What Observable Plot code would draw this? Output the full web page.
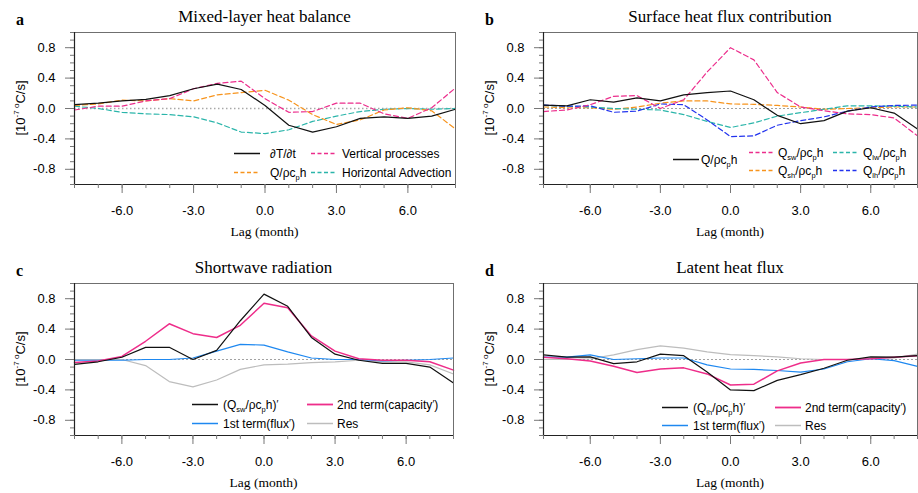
<!DOCTYPE html>
<html>
<head>
<meta charset="utf-8">
<script src="https://cdn.jsdelivr.net/npm/d3@7"></script>
<script src="https://cdn.jsdelivr.net/npm/@observablehq/plot@0.6"></script>
<style>
  html, body { margin: 0; padding: 0; background: #fff; }
  #wrap { position: relative; width: 918px; height: 493px; background: #fff; overflow: hidden; }
  .panel { position: absolute; }
  .panel svg { overflow: visible; }
</style>
</head>
<body>
<div id="wrap"></div>
<script>
// ---------------- data ----------------
const lags = [-8, -7, -6, -5, -4, -3, -2, -1, 0, 1, 2, 3, 4, 5, 6, 7, 8];
const xMajorTicks = [-6, -3, 0, 3, 6];
const yMajorTicks = [-0.8, -0.4, 0, 0.4, 0.8];

// (a) Mixed-layer heat balance
const aTend  = [0.05, 0.07, 0.10, 0.12, 0.17, 0.26, 0.32, 0.25, 0.04, -0.22, -0.31, -0.24, -0.13, -0.11, -0.13, -0.10, -0.01];
const aQnet  = [0.04, 0.06, 0.11, 0.10, 0.13, 0.10, 0.18, 0.21, 0.24, 0.11, -0.08, -0.21, -0.15, -0.02, 0.01, -0.03, -0.27];
const aVert  = [-0.02, 0.03, 0.03, 0.10, 0.13, 0.26, 0.33, 0.36, 0.13, -0.05, -0.04, 0.07, 0.07, -0.07, -0.13, 0.01, 0.27];
const aHadv  = [0.03, 0.0, -0.05, -0.07, -0.08, -0.11, -0.19, -0.31, -0.33, -0.28, -0.17, -0.10, -0.04, -0.01, 0.0, -0.01, 0.0];

// (b) Surface heat flux contribution
const bQnet = [0.045, 0.035, 0.115, 0.085, 0.14, 0.10, 0.18, 0.21, 0.23, 0.115, -0.09, -0.20, -0.16, -0.035, 0.01, -0.06, -0.27];
const bQsw  = [-0.04, -0.02, 0.05, 0.16, 0.17, 0.0, 0.115, 0.48, 0.80, 0.64, 0.21, 0.02, -0.03, -0.07, -0.08, -0.125, -0.36];
const bQsh  = [0.02, 0.01, 0.01, -0.01, 0.02, 0.07, 0.10, 0.10, 0.06, 0.055, 0.04, 0.02, -0.01, 0.0, 0.01, 0.02, 0.02];
const bQlw  = [0.04, 0.03, 0.02, 0.0, -0.01, -0.02, -0.08, -0.17, -0.25, -0.19, -0.10, -0.055, -0.01, 0.035, 0.035, 0.03, 0.02];
const bQlh  = [0.045, 0.03, 0.035, -0.05, -0.035, 0.06, 0.05, -0.15, -0.37, -0.36, -0.22, -0.16, -0.11, -0.035, 0.02, 0.04, 0.045];

// (c) Shortwave radiation
const cTotal = [-0.065, -0.03, 0.03, 0.16, 0.16, 0.0, 0.12, 0.51, 0.86, 0.70, 0.29, 0.07, -0.01, -0.05, -0.05, -0.10, -0.31];
const cCap   = [-0.04, -0.02, 0.04, 0.24, 0.47, 0.34, 0.29, 0.45, 0.74, 0.68, 0.31, 0.11, 0.01, -0.01, -0.01, -0.03, -0.14];
const cFlux  = [-0.01, -0.01, -0.01, 0.0, 0.0, 0.02, 0.11, 0.20, 0.19, 0.10, 0.02, 0.0, 0.0, -0.02, -0.01, 0.0, 0.02];
const cRes   = [0.0, 0.0, 0.0, -0.08, -0.29, -0.36, -0.27, -0.13, -0.07, -0.06, -0.04, -0.03, -0.01, -0.03, -0.03, -0.07, -0.19];

// (d) Latent heat flux
const dTotal = [0.06, 0.03, 0.035, -0.055, -0.03, 0.07, 0.05, -0.165, -0.40, -0.41, -0.275, -0.20, -0.115, -0.01, 0.035, 0.03, 0.05];
const dCap   = [0.03, 0.01, -0.02, -0.09, -0.17, -0.125, -0.11, -0.19, -0.335, -0.325, -0.15, -0.045, 0.0, 0.0, 0.01, 0.03, 0.05];
const dFlux  = [0.03, 0.03, 0.06, 0.0, 0.01, 0.02, 0.02, -0.07, -0.125, -0.13, -0.145, -0.165, -0.125, -0.03, 0.01, -0.015, -0.09];
const dRes   = [0.0, 0.0, 0.01, 0.06, 0.13, 0.18, 0.15, 0.10, 0.065, 0.05, 0.035, 0.01, 0.0, 0.0, 0.02, 0.02, 0.07];

// ---------------- styles ----------------
const C = {
  black: "#111111",
  orange: "#F7941D",
  magenta: "#EC2D8C",
  teal: "#2BB5AA",
  blue: "#2233EE",
  pink: "#EE2D8A",
  sky: "#1E88F0",
  grey: "#BDBDBD"
};
const DASH = "5,3";
const SANS = "'Liberation Sans', Arial, Helvetica, sans-serif";
const SERIF = "'Liberation Serif', 'Times New Roman', serif";

// rich text: _{sub} ^{sup}
function rich(sel, str, fs) {
  const re = /([_^])\{([^}]*)\}|([^_^]+)/g;
  let m, cur = 0;
  while ((m = re.exec(str))) {
    let txt, target, size;
    if (m[3] !== undefined) { txt = m[3]; target = 0; size = fs; }
    else if (m[1] === "_") { txt = m[2]; target = fs * 0.28; size = fs * 0.62; }
    else if (m[2] === "'") { txt = "′"; target = -fs * 0.05; size = fs * 0.85; }
    else { txt = m[2]; target = -fs * 0.42; size = fs * 0.62; }
    const t = sel.append("tspan").attr("font-size", size).text(txt);
    if (target !== cur) t.attr("dy", target - cur);
    cur = target;
  }
}

function panel(cfg) {
  const W = 459, H = 246, mt = 32, mb = 62;
  const rows = [];
  cfg.series.forEach((s, si) => {
    lags.forEach((l, i) => rows.push({series: si, lag: l, value: s.values[i]}));
  });
  const lineMarks = cfg.series.map((s, si) =>
    Plot.line(rows.filter(r => r.series === si), {
      x: "lag", y: "value", stroke: s.color,
      strokeWidth: s.width || 1.2,
      strokeDasharray: s.dash ? DASH : null,
      curve: "linear"
    })
  );
  const zeroStyle = cfg.zeroDotted
    ? {stroke: "#A8A8A8", strokeWidth: 1.4, strokeDasharray: "1.5,2.5"}
    : {stroke: "#8a8a8a", strokeWidth: 0.8, strokeDasharray: "2,2"};

  const chart = Plot.plot({
    width: W, height: H,
    marginLeft: cfg.ml, marginRight: cfg.mr, marginTop: mt, marginBottom: mb,
    style: {fontFamily: SANS, fontSize: "13px", background: "white", color: "black"},
    x: {domain: [-8, 8]},
    y: {domain: [-1, 1]},
    marks: [
      Plot.ruleY([0], zeroStyle),
      ...lineMarks,
      Plot.frame({stroke: "#6f6f6f", strokeWidth: 1}),
      Plot.ruleX([-8], {stroke: "#222", strokeWidth: 1.2}),
      Plot.ruleY([-1], {stroke: "#222", strokeWidth: 1.2}),
      Plot.axisX({ticks: lags, tickSize: 4, text: null, label: null, stroke: "#777"}),
      Plot.axisX({ticks: xMajorTicks, tickSize: 9, tickPadding: 12, label: null, stroke: "#777",
        tickFormat: d => d.toFixed(1), fontSize: 13}),
      Plot.axisY({ticks: d3.range(-10, 11).map(i => i / 10), tickSize: 4, text: null, label: null, stroke: "#777"}),
      Plot.axisY({ticks: yMajorTicks, tickSize: 9, tickPadding: 10, label: null, stroke: "#777",
        tickFormat: d => d.toFixed(1), fontSize: 13})
    ]
  });

  const svg = d3.select(chart);
  const fl = cfg.ml, fr = W - cfg.mr, ft = mt, fb = H - mb;
  const fc = (fl + fr) / 2;

  // panel letter
  svg.append("text").attr("x", fl - 58).attr("y", 25).attr("text-anchor", "start")
    .attr("font-family", SERIF).attr("font-weight", "bold").attr("font-size", 16)
    .text(cfg.letter);
  // title
  svg.append("text").attr("x", fc).attr("y", 22).attr("text-anchor", "middle")
    .attr("font-family", SERIF).attr("font-size", 17).text(cfg.title);
  // x label
  svg.append("text").attr("x", fc).attr("y", 236).attr("text-anchor", "middle")
    .attr("font-family", SERIF).attr("font-size", 13.5).text("Lag (month)");
  // y label
  const yl = svg.append("text")
    .attr("transform", `translate(${fl - 54},${(ft + fb) / 2}) rotate(-90)`)
    .attr("text-anchor", "middle").attr("dy", "0.35em")
    .attr("font-family", SANS).attr("font-size", 13);
  rich(yl, "[10^{-7 o}C/s]", 13);

  // legend
  const lg = svg.append("g").attr("font-family", SANS).attr("font-size", 12).attr("text-anchor", "start");
  cfg.legend.forEach(it => {
    const s = cfg.series[it.s];
    const y = Math.round(fb + it.y) + 0.5;
    lg.append("line")
      .attr("x1", fl + it.x).attr("x2", fl + it.x + (it.len || 26))
      .attr("y1", y).attr("y2", y)
      .attr("stroke", s.color).attr("stroke-width", (s.width || 1.2) + 0.3)
      .attr("stroke-dasharray", s.dash ? "4,2.5" : null);
    const t = lg.append("text").attr("x", fl + it.tx).attr("y", y).attr("dy", "0.35em")
      .attr("text-anchor", "start");
    rich(t, s.label, 12);
  });

  const div = document.createElement("div");
  div.className = "panel";
  div.style.left = cfg.left + "px";
  div.style.top = cfg.top + "px";
  div.appendChild(chart);
  document.getElementById("wrap").appendChild(div);
}

panel({
  left: 0, top: 0, ml: 74, mr: 4, letter: "a", title: "Mixed-layer heat balance", zeroDotted: true,
  series: [
    {values: aHadv, color: C.teal, dash: true, label: "Horizontal Advection"},
    {values: aQnet, color: C.orange, dash: true, label: "Q/ρc_{p}h"},
    {values: aVert, color: C.magenta, dash: true, label: "Vertical processes"},
    {values: aTend, color: C.black, label: "∂T/∂t"}
  ],
  legend: [
    {s: 3, x: 160, tx: 196, y: -31},
    {s: 1, x: 160, tx: 196, y: -12.5},
    {s: 2, x: 237, tx: 268, y: -31},
    {s: 0, x: 237, tx: 268, y: -12.5}
  ]
});

panel({
  left: 459, top: 0, ml: 84, mr: 1, letter: "b", title: "Surface heat flux contribution",
  series: [
    {values: bQsh, color: C.orange, dash: true, label: "Q_{sh}/ρc_{p}h"},
    {values: bQlw, color: C.teal, dash: true, label: "Q_{lw}/ρc_{p}h"},
    {values: bQlh, color: C.blue, dash: true, label: "Q_{lh}/ρc_{p}h"},
    {values: bQsw, color: C.magenta, dash: true, label: "Q_{sw}/ρc_{p}h"},
    {values: bQnet, color: C.black, label: "Q/ρc_{p}h"}
  ],
  legend: [
    {s: 4, x: 130, tx: 158, y: -25},
    {s: 3, x: 206, tx: 235, y: -32},
    {s: 0, x: 206, tx: 235, y: -14},
    {s: 1, x: 290, tx: 320, y: -32},
    {s: 2, x: 290, tx: 320, y: -14}
  ]
});

panel({
  left: 0, top: 251, ml: 74, mr: 6, letter: "c", title: "Shortwave radiation",
  series: [
    {values: cRes, color: C.grey, label: "Res"},
    {values: cFlux, color: C.sky, label: "1st term(flux^{'})"},
    {values: cCap, color: C.pink, width: 1.5, label: "2nd term(capacity^{'})"},
    {values: cTotal, color: C.black, label: "(Q_{sw}/ρc_{p}h)^{'}"}
  ],
  legend: [
    {s: 3, x: 118, tx: 149, y: -31},
    {s: 1, x: 118, tx: 149, y: -12},
    {s: 2, x: 233, tx: 263, y: -31},
    {s: 0, x: 233, tx: 263, y: -12}
  ]
});

panel({
  left: 459, top: 251, ml: 84, mr: 1, letter: "d", title: "Latent heat flux",
  series: [
    {values: dRes, color: C.grey, label: "Res"},
    {values: dFlux, color: C.sky, label: "1st term(flux^{'})"},
    {values: dCap, color: C.pink, width: 1.5, label: "2nd term(capacity^{'})"},
    {values: dTotal, color: C.black, label: "(Q_{lh}/ρc_{p}h)^{'}"}
  ],
  legend: [
    {s: 3, x: 119, tx: 150, y: -28},
    {s: 1, x: 119, tx: 150, y: -10},
    {s: 2, x: 232, tx: 262, y: -28},
    {s: 0, x: 232, tx: 262, y: -10}
  ]
});
</script>
</body>
</html>
